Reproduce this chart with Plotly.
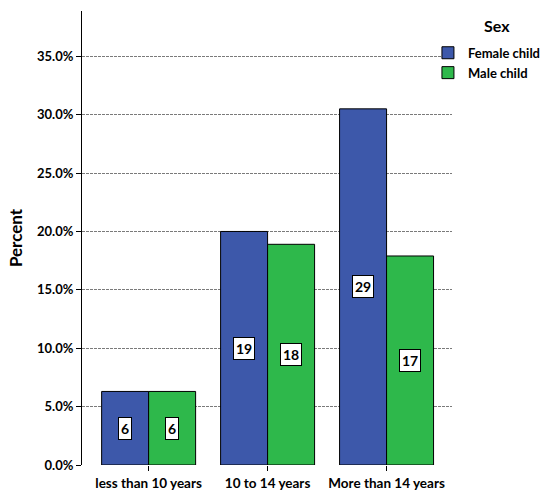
import plotly.graph_objects as go

categories = ["less than 10 years", "10 to 14 years", "More than 14 years"]
female_pct = [6.3, 20.0, 30.5]
male_pct = [6.3, 18.9, 17.9]
female_n = [6, 19, 29]
male_n = [6, 18, 17]
y_ticks = [0, 5, 10, 15, 20, 25, 30, 35]
y_tick_labels = ["0.0%", "5.0%", "10.0%", "15.0%", "20.0%", "25.0%", "30.0%", "35.0%"]

BLUE = "#3D58AA"
GREEN = "#2EB84B"
FONT = "Lato"
BARGAP = 0.21

fig = go.Figure()
fig.add_trace(go.Bar(name="Female child", x=categories, y=female_pct,
                     marker=dict(color=BLUE, line=dict(color="black", width=1))))
fig.add_trace(go.Bar(name="Male child", x=categories, y=male_pct,
                     marker=dict(color=GREEN, line=dict(color="black", width=1))))

half = (1 - BARGAP) / 4
for i, (fv, mv, fn, mn) in enumerate(zip(female_pct, male_pct, female_n, male_n)):
    for xv, yv, txt in ((i - half, fv / 2, fn), (i + half, mv / 2, mn)):
        fig.add_annotation(x=xv, y=yv, text=f"<b>{txt}</b>", showarrow=False,
                           bgcolor="white", bordercolor="black", borderwidth=1,
                           borderpad=2, font=dict(family=FONT, size=14, color="black"))

# legend title as a separate annotation
fig.add_annotation(xref="paper", yref="paper", x=1.122, y=0.967, xanchor="center", yanchor="middle",
                   text="<b>Sex</b>", showarrow=False, font=dict(family=FONT, size=16, color="black"))

fig.update_layout(
    width=544, height=490,
    margin=dict(l=82, r=92, t=11, b=25, autoexpand=False),
    paper_bgcolor="white", plot_bgcolor="white",
    barmode="group", bargap=BARGAP, bargroupgap=0,
    font=dict(family=FONT, color="black"),
    showlegend=True,
    legend=dict(x=0.935, xanchor="left", y=0.941, yanchor="top",
                bgcolor="rgba(0,0,0,0)",
                font=dict(size=13, family=FONT, weight="bold"),
                itemwidth=30, tracegroupgap=0),
)
fig.update_xaxes(range=[-0.56, 2.55], showline=False, showgrid=False, zeroline=False,
                 ticks="outside", ticklen=5, tickcolor="black", ticklabelstandoff=1,
                 tickfont=dict(size=13.5, family=FONT, weight="bold"))
fig.update_yaxes(range=[0, 38.88], tickmode="array", tickvals=y_ticks, ticktext=y_tick_labels,
                 showline=True, linecolor="black", linewidth=1,
                 ticks="outside", ticklen=5, tickcolor="black",
                 showgrid=True, gridcolor="#7a7a7a", gridwidth=1, griddash="3px,1px",
                 zeroline=False,
                 tickfont=dict(size=13, family=FONT, weight="bold"),
                 title=dict(text="<b>Percent</b>", font=dict(size=17, family=FONT), standoff=10))

fig.write_html("out.html")
